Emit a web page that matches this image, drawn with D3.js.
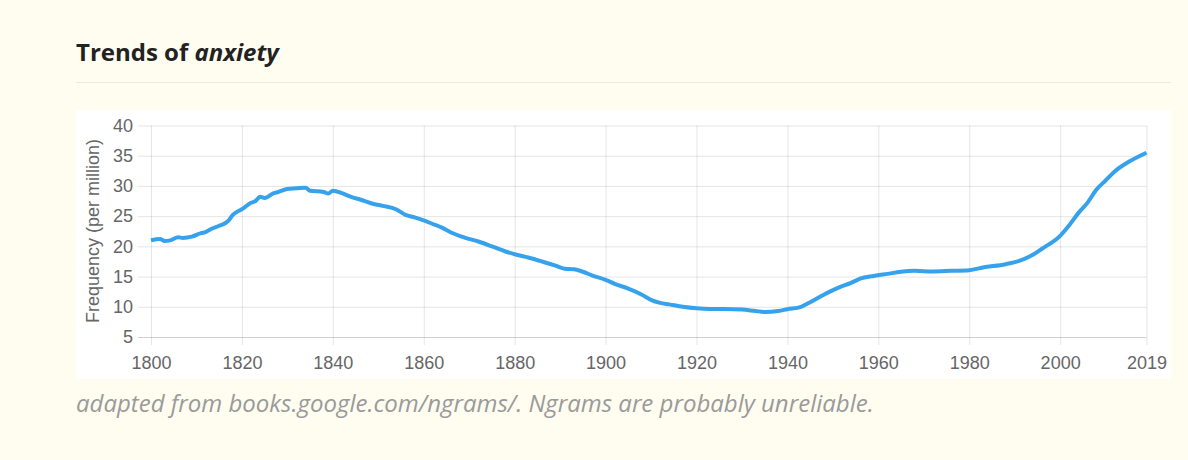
<!DOCTYPE html>
<html>
<head>
<meta charset="utf-8">
<script src="https://cdn.jsdelivr.net/npm/d3@7"></script>
<style>
  html, body { margin: 0; padding: 0; background: #fffcf0; }
  svg { display: block; }
</style>
</head>
<body>
<svg id="chart"></svg>
<script>
// anxiety ngram frequency (per million)
var years = [1800, 1802, 1803, 1804, 1806, 1807, 1809, 1811, 1812, 1813, 1815, 1817, 1818, 1820,
  1821, 1822, 1823, 1824, 1825, 1827, 1828, 1830, 1832, 1834, 1835, 1838, 1839, 1840, 1842, 1844,
  1846, 1849, 1851, 1854, 1856, 1858, 1860, 1862, 1864, 1866, 1869, 1872, 1875, 1878, 1880, 1883,
  1886, 1889, 1891, 1893, 1895, 1897, 1900, 1902, 1905, 1908, 1910, 1912, 1914, 1917, 1920, 1923,
  1926, 1930, 1933, 1935, 1938, 1940, 1943, 1945, 1948, 1951, 1954, 1956, 1959, 1962, 1965, 1968,
  1972, 1976, 1980, 1983, 1988, 1991, 1994, 1996, 2000, 2002, 2004, 2006, 2008, 2010, 2012, 2015, 2019];
var frequency = [21.0, 21.2, 20.9, 20.95, 21.5, 21.4, 21.6, 22.2, 22.35, 22.8, 23.4, 24.2, 25.2, 26.15,
  26.7, 27.2, 27.5, 28.2, 28.0, 28.8, 29.0, 29.5, 29.6, 29.7, 29.2, 29.0, 28.75, 29.2, 28.8, 28.2,
  27.75, 27.0, 26.7, 26.1, 25.2, 24.8, 24.3, 23.7, 23.1, 22.3, 21.45, 20.8, 20.0, 19.15, 18.7, 18.15,
  17.5, 16.8, 16.3, 16.2, 15.8, 15.2, 14.45, 13.8, 13.0, 12.0, 11.15, 10.65, 10.4, 10.0, 9.75, 9.65,
  9.65, 9.55, 9.3, 9.15, 9.3, 9.6, 10.0, 10.75, 12.0, 13.1, 13.95, 14.65, 15.1, 15.45, 15.8, 15.95,
  15.85, 15.95, 16.05, 16.5, 17.05, 17.6, 18.6, 19.6, 21.75, 23.5, 25.5, 27.2, 29.4, 30.9, 32.4, 33.95, 35.5];
var xTicks = [1800, 1820, 1840, 1860, 1880, 1900, 1920, 1940, 1960, 1980, 2000, 2019];
var yTicks = [5, 10, 15, 20, 25, 30, 35, 40];

var width = 1188, height = 460;
var svg = d3.select("#chart").attr("width", width).attr("height", height);

// heading
var title = svg.append("text")
    .attr("x", 76).attr("y", 61)
    .style("font-family", "'Open Sans'")
    .style("font-weight", "bold")
    .style("font-size", "24px")
    .style("fill", "#222");
title.append("tspan").text("Trends of ");
title.append("tspan").style("font-style", "italic").text("anxiety");

svg.append("line")
    .attr("x1", 76).attr("x2", 1171).attr("y1", 82.5).attr("y2", 82.5)
    .style("stroke", "#eeeadb");

// white chart panel
svg.append("rect")
    .attr("x", 76).attr("y", 110).attr("width", 1095).attr("height", 269)
    .style("fill", "#fff");

var x = d3.scaleLinear().domain([1800, 2019]).range([151, 1146.5]);
var y = d3.scaleLinear().domain([5, 40]).range([337, 125.5]);

var g = svg.append("g");

// horizontal grid
var yAxis = g.append("g")
    .attr("transform", "translate(151,0)")
    .call(d3.axisLeft(y).tickValues(yTicks).tickSize(-(1146.5 - 151)).tickPadding(18));
yAxis.select(".domain").remove();
yAxis.selectAll(".tick line")
    .attr("x1", -13)
    .style("stroke", function (d) { return d === 5 ? "rgba(0,0,0,0.18)" : "rgba(0,0,0,0.1)"; });

// vertical grid
var xAxis = g.append("g")
    .attr("transform", "translate(0,337)")
    .call(d3.axisBottom(x).tickValues(xTicks).tickFormat(d3.format("d")).tickSize(-(337 - 125.5)).tickPadding(19));
xAxis.select(".domain").remove();
xAxis.selectAll(".tick line")
    .attr("y2", -(337 - 125.5)).attr("y1", 8)
    .style("stroke", "rgba(0,0,0,0.1)");

g.selectAll(".tick text")
    .style("font-family", "'Liberation Sans', Arial, sans-serif")
    .style("font-size", "18px")
    .style("fill", "#666");

svg.append("text")
    .attr("transform", "translate(99,231) rotate(-90)")
    .attr("text-anchor", "middle")
    .style("font-family", "'Liberation Sans', Arial, sans-serif")
    .style("font-size", "18px")
    .style("fill", "#666")
    .text("Frequency (per million)");

// the series
var line = d3.line()
    .x(function (d, i) { return x(years[i]); })
    .y(function (d) { return y(d); })
    .curve(d3.curveMonotoneX);

svg.append("path")
    .datum(frequency)
    .attr("d", line)
    .style("fill", "none")
    .style("stroke", "#36a2eb")
    .style("stroke-width", 4)
    .style("stroke-linejoin", "round");

// caption
svg.append("text")
    .attr("x", 76).attr("y", 411.5)
    .style("font-family", "'Open Sans'")
    .style("font-style", "italic")
    .style("font-size", "24px")
    .style("fill", "#9a9a9a")
    .text("adapted from books.google.com/ngrams/. Ngrams are probably unreliable.");
</script>
</body>
</html>
